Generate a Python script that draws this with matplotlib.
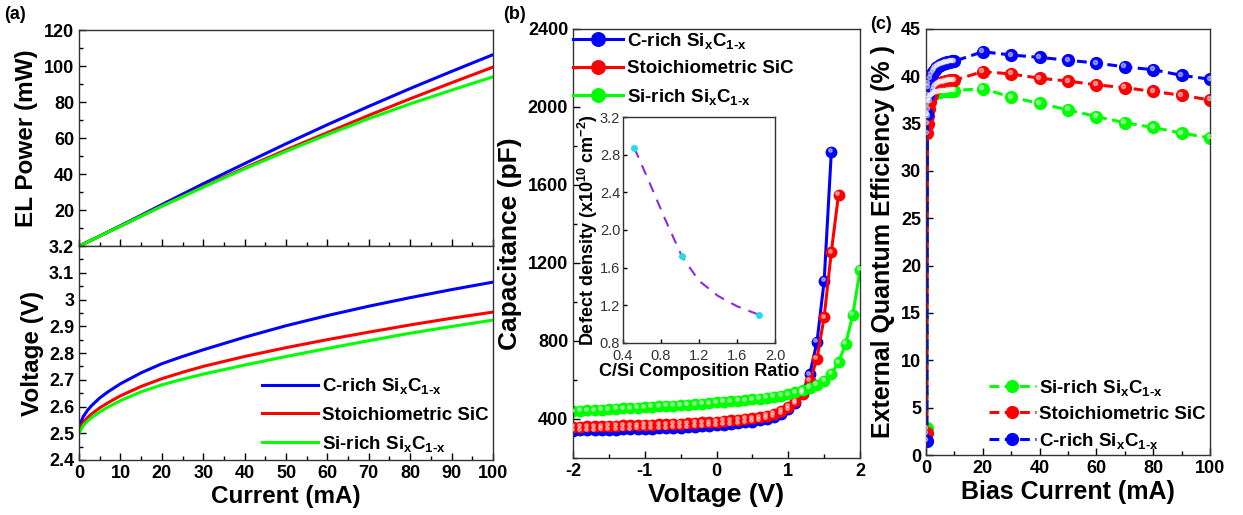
import matplotlib.pyplot as plt
from matplotlib.ticker import MultipleLocator
from matplotlib.transforms import offset_copy
import numpy as np

plt.rcParams['font.family'] = 'Liberation Sans'
plt.rcParams['font.weight'] = 'bold'
plt.rcParams['axes.labelweight'] = 'bold'
plt.rcParams['axes.unicode_minus'] = False
plt.rcParams['mathtext.fontset'] = 'custom'
plt.rcParams['mathtext.rm'] = 'Liberation Sans:bold'
plt.rcParams['mathtext.bf'] = 'Liberation Sans:bold'
plt.rcParams['mathtext.it'] = 'Liberation Sans:bold'
plt.rcParams['mathtext.default'] = 'rm'
plt.rcParams['xtick.direction'] = 'in'
plt.rcParams['ytick.direction'] = 'in'

# colours / labels
c_blue, c_red, c_green = '#0000FF', '#FF0000', '#00FF00'
lab_c = r'C-rich Si$_x$C$_{1\text{-}x}$'
lab_s = 'Stoichiometric SiC'
lab_si = r'Si-rich Si$_x$C$_{1\text{-}x}$'

# (a) EL power and voltage vs current
current_a = [0, 1, 2, 3, 5, 7, 10, 15, 20, 25, 30, 40, 50, 60, 70, 80, 90, 100]
power_c = [0, 1.1, 2.2, 3.3, 5.6, 7.9, 11.3, 17.1, 23.0, 28.8, 34.6, 45.8, 56.8, 67.4, 77.6, 87.5, 97.0, 106.3]
power_stoich = [0, 1.1, 2.2, 3.3, 5.5, 7.7, 11.0, 16.6, 22.2, 27.6, 33.0, 43.4, 53.4, 63.0, 72.6, 81.8, 90.7, 99.4]
power_si = [0, 1.1, 2.2, 3.3, 5.5, 7.7, 11.0, 16.6, 22.1, 27.4, 32.7, 42.9, 52.6, 61.9, 70.8, 79.0, 86.6, 94.0]
volt_c = [2.52, 2.562, 2.585, 2.603, 2.632, 2.655, 2.685, 2.726, 2.76, 2.787, 2.812, 2.859, 2.902, 2.94, 2.975, 3.007, 3.037, 3.065]
volt_stoich = [2.51, 2.54, 2.558, 2.572, 2.595, 2.614, 2.64, 2.675, 2.704, 2.728, 2.75, 2.787, 2.82, 2.85, 2.878, 2.905, 2.93, 2.953]
volt_si = [2.50, 2.528, 2.545, 2.558, 2.58, 2.598, 2.622, 2.655, 2.681, 2.702, 2.721, 2.755, 2.787, 2.817, 2.846, 2.874, 2.899, 2.923]
power_ticks = [20, 40, 60, 80, 100, 120]
volt_ticks = [2.4, 2.5, 2.6, 2.7, 2.8, 2.9, 3.0, 3.1, 3.2]
volt_ticklabels = ['2.4', '2.5', '2.6', '2.7', '2.8', '2.9', '3', '3.1', '3.2']
current_ticks = [0, 10, 20, 30, 40, 50, 60, 70, 80, 90, 100]

# (b) C-V curves
bias_v = [round(-2.0 + 0.1 * i, 1) for i in range(41)]
cap_c = [340, 341, 342, 343, 344, 345, 346, 347, 348, 349, 350, 351, 352, 353, 355, 356, 358, 360, 362, 365,
         368, 371, 374, 378, 382, 387, 393, 401, 412, 428, 450, 482, 540, 630, 795, 1108, 1770]
cap_stoich = [360, 361, 362, 363, 364, 365, 366, 367, 368, 369, 370, 371, 372, 373, 375, 376, 378, 380, 382, 384,
              387, 390, 393, 396, 400, 404, 410, 417, 427, 442, 462, 490, 530, 595, 708, 923, 1256, 1550]
cap_si = [440, 442, 444, 446, 448, 450, 452, 454, 456, 458, 461, 463, 465, 467, 469, 471, 474, 476, 479, 482,
          485, 488, 491, 494, 497, 500, 504, 508, 513, 519, 527, 536, 547, 560, 575, 595, 632, 690, 785, 935, 1165]
bias_ticks = [-2, -1, 0, 1, 2]
cap_ticks = [400, 800, 1200, 1600, 2000, 2400]

# (b) inset: defect density vs C/Si ratio
ratio_pts = [0.52, 1.02, 1.83]
density_pts = [2.87, 1.72, 1.10]
ratio_fit = [0.52, 0.68, 0.85, 1.02, 1.2, 1.4, 1.6, 1.83]
density_fit = [2.87, 2.50, 2.10, 1.72, 1.46, 1.30, 1.19, 1.10]

# (c) EQE vs bias current
current_c = [0.3, 0.5, 0.6, 0.8, 1.0, 1.5, 2, 2.5, 3, 3.5, 4, 4.5, 5, 5.5, 6, 6.5, 7, 7.5, 8, 8.5, 9, 9.5, 10,
             20, 30, 40, 50, 60, 70, 80, 90, 100]
eqe_c = [1.5, 36, 38, 38.8, 39.2, 39.8, 40.2, 40.5, 40.7, 40.9, 41.0, 41.1, 41.2, 41.3, 41.35, 41.4, 41.45, 41.5,
         41.5, 41.55, 41.6, 41.6, 41.6, 42.6, 42.25, 42.0, 41.7, 41.4, 41.0, 40.7, 40.1, 39.7]
eqe_stoich = [2.3, 34, 35, 35.8, 36.5, 37.3, 38.0, 38.5, 38.8, 39.0, 39.1, 39.2, 39.3, 39.35, 39.4, 39.45, 39.5,
              39.5, 39.55, 39.6, 39.6, 39.6, 39.6, 40.5, 40.25, 39.8, 39.5, 39.1, 38.8, 38.4, 38.0, 37.5]
eqe_si = [2.8, 36, 37, 37.3, 37.5, 37.8, 38.0, 38.1, 38.2, 38.25, 38.3, 38.3, 38.35, 38.4, 38.4, 38.4, 38.45,
          38.45, 38.5, 38.5, 38.5, 38.5, 38.5, 38.7, 37.8, 37.15, 36.45, 35.75, 35.1, 34.6, 34.0, 33.5]
bias_current_ticks = [0, 20, 40, 60, 80, 100]
eqe_ticks = [0, 5, 10, 15, 20, 25, 30, 35, 40, 45]

fig = plt.figure(figsize=(12.43, 5.15), dpi=100)

tick_fs = 13
lab_fs = 17.5
leg_fs = 13.5


def style(ax):
    for sp in ax.spines.values():
        sp.set_linewidth(1.0)
        sp.set_color('#333333')
    ax.tick_params(which='major', length=5, width=1)
    ax.tick_params(which='minor', length=3, width=1)


def set_ticks(ax, xt, yt, xl=None, yl=None):
    ax.set_xticks(xt)
    ax.set_xticklabels(xl if xl is not None else [f'{v:g}' for v in xt], fontsize=tick_fs, fontweight='bold')
    ax.set_yticks(yt)
    ax.set_yticklabels(yl if yl is not None else [f'{v:g}' for v in yt], fontsize=tick_fs, fontweight='bold')


def shine(ax, x, y, size):
    # small highlight on the sphere-like markers
    tr = offset_copy(ax.transData, fig=fig, x=-1.5, y=1.5, units='dots')
    ax.plot(x, y, ls='none', marker='o', ms=size, color='white', alpha=0.45, transform=tr, zorder=5)


# ---- (a) ----
ax_p = fig.add_axes([0.0636, 0.5223, 0.333, 0.4194])
ax_v = fig.add_axes([0.0636, 0.1068, 0.333, 0.4155])
ax_p.plot(current_a, power_c, color=c_blue, lw=2.2)
ax_p.plot(current_a, power_stoich, color=c_red, lw=2.2)
ax_p.plot(current_a, power_si, color=c_green, lw=2.2)
set_ticks(ax_p, current_ticks, power_ticks)
ax_p.set_xlim(0, 100)
ax_p.set_ylim(0, 120)
ax_p.yaxis.set_minor_locator(MultipleLocator(10))
ax_p.xaxis.set_minor_locator(MultipleLocator(5))
ax_p.tick_params(labelbottom=False)
ax_p.set_ylabel('EL Power (mW)', fontsize=lab_fs, labelpad=4)
style(ax_p)

ax_v.plot(current_a, volt_c, color=c_blue, lw=2.2, label=lab_c)
ax_v.plot(current_a, volt_stoich, color=c_red, lw=2.2, label=lab_s)
ax_v.plot(current_a, volt_si, color=c_green, lw=2.2, label=lab_si)
set_ticks(ax_v, current_ticks, volt_ticks, yl=volt_ticklabels)
ax_v.set_xlim(0, 100)
ax_v.set_ylim(2.4, 3.2)
ax_v.yaxis.set_minor_locator(MultipleLocator(0.05))
ax_v.xaxis.set_minor_locator(MultipleLocator(5))
ax_v.set_xlabel('Current (mA)', fontsize=lab_fs, labelpad=2)
ax_v.set_ylabel('Voltage (V)', fontsize=lab_fs, labelpad=4)
style(ax_v)
ax_v.legend(loc='lower right', bbox_to_anchor=(1.03, -0.05), frameon=False, fontsize=leg_fs,
            handlelength=3.0, handletextpad=0.2, labelspacing=0.55)

# ---- (b) ----
ax_b = fig.add_axes([0.461, 0.1107, 0.2309, 0.833])
ax_b.plot(bias_v[:len(cap_c)], cap_c, color=c_blue, lw=2.2, marker='o', ms=7.5, label=lab_c)
shine(ax_b, bias_v[:len(cap_c)], cap_c, 2.5)
ax_b.plot(bias_v[:len(cap_stoich)], cap_stoich, color=c_red, lw=2.2, marker='o', ms=7.5, label=lab_s)
shine(ax_b, bias_v[:len(cap_stoich)], cap_stoich, 2.5)
ax_b.plot(bias_v[:len(cap_si)], cap_si, color=c_green, lw=2.2, marker='o', ms=7.5, label=lab_si)
shine(ax_b, bias_v[:len(cap_si)], cap_si, 2.5)
set_ticks(ax_b, bias_ticks, cap_ticks)
ax_b.set_xlim(-2, 2)
ax_b.set_ylim(200, 2400)
ax_b.yaxis.set_minor_locator(MultipleLocator(200))
ax_b.xaxis.set_minor_locator(MultipleLocator(0.5))
ax_b.set_xlabel('Voltage (V)', fontsize=19, labelpad=2)
ax_b.set_ylabel('Capacitance (pF)', fontsize=19, labelpad=4)
style(ax_b)
ax_b.legend(loc='upper left', bbox_to_anchor=(-0.06, 1.035), frameon=False, fontsize=leg_fs,
            handlelength=2.7, handletextpad=0.2, labelspacing=0.5, markerscale=1.3)

ax_in = fig.add_axes([0.5012, 0.334, 0.1223, 0.4388])
ax_in.plot(ratio_fit, density_fit, color='#8A2BE2', lw=1.5, ls=(0, (5, 4)))
ax_in.plot(ratio_pts, density_pts, ls='none', marker='o', ms=4, color='#22DDEE')
ax_in.set_xlim(0.4, 2.0)
ax_in.set_ylim(0.8, 3.2)
ax_in.set_xticks([0.4, 0.8, 1.2, 1.6, 2.0])
ax_in.set_xticklabels(['0.4', '0.8', '1.2', '1.6', '2.0'], fontsize=10.5, fontweight='normal', color='#333333')
ax_in.set_yticks([0.8, 1.2, 1.6, 2.0, 2.4, 2.8, 3.2])
ax_in.set_yticklabels(['0.8', '1.2', '1.6', '2.0', '2.4', '2.8', '3.2'], fontsize=10.5, fontweight='normal',
                      color='#333333')
for sp in ax_in.spines.values():
    sp.set_linewidth(1.0)
    sp.set_color('#333333')
ax_in.tick_params(length=3, width=1)
ax_in.tick_params(axis='x', pad=4)
ax_in.tick_params(axis='y', pad=2)
ax_in.set_xlabel('C/Si Composition Ratio', fontsize=13, labelpad=0)
ax_in.set_ylabel(r'Defect density (x10$^{10}$ cm$^{-2}$)', fontsize=13, labelpad=0)

# ---- (c) ----
ax_c = fig.add_axes([0.745, 0.1165, 0.2285, 0.8272])
dash = (0, (3.2, 1.8))
ax_c.plot(current_c, eqe_si, color=c_green, lw=2.2, ls=dash, marker='o', ms=8.5, label=lab_si)
shine(ax_c, current_c, eqe_si, 3)
ax_c.plot(current_c, eqe_stoich, color=c_red, lw=2.2, ls=dash, marker='o', ms=8.5, label=lab_s)
shine(ax_c, current_c, eqe_stoich, 3)
ax_c.plot(current_c, eqe_c, color=c_blue, lw=2.2, ls=dash, marker='o', ms=8.5, label=lab_c)
shine(ax_c, current_c, eqe_c, 3)
set_ticks(ax_c, bias_current_ticks, eqe_ticks)
ax_c.set_xlim(0, 100)
ax_c.set_ylim(0, 45)
ax_c.xaxis.set_minor_locator(MultipleLocator(10))
ax_c.set_xlabel('Bias Current (mA)', fontsize=18, labelpad=2)
ax_c.set_ylabel('External Quantum Efficiency (% )', fontsize=18, labelpad=4)
style(ax_c)
ax_c.legend(loc='lower right', bbox_to_anchor=(1.045, -0.03), frameon=False, fontsize=leg_fs,
            handlelength=2.5, handletextpad=0.2, labelspacing=0.42)

fig.text(0.003, 0.972, '(a)', fontsize=13, va='center')
fig.text(0.405, 0.972, '(b)', fontsize=13, va='center')
fig.text(0.700, 0.952, '(c)', fontsize=13, va='center')

fig.savefig('out.png', dpi=100)
